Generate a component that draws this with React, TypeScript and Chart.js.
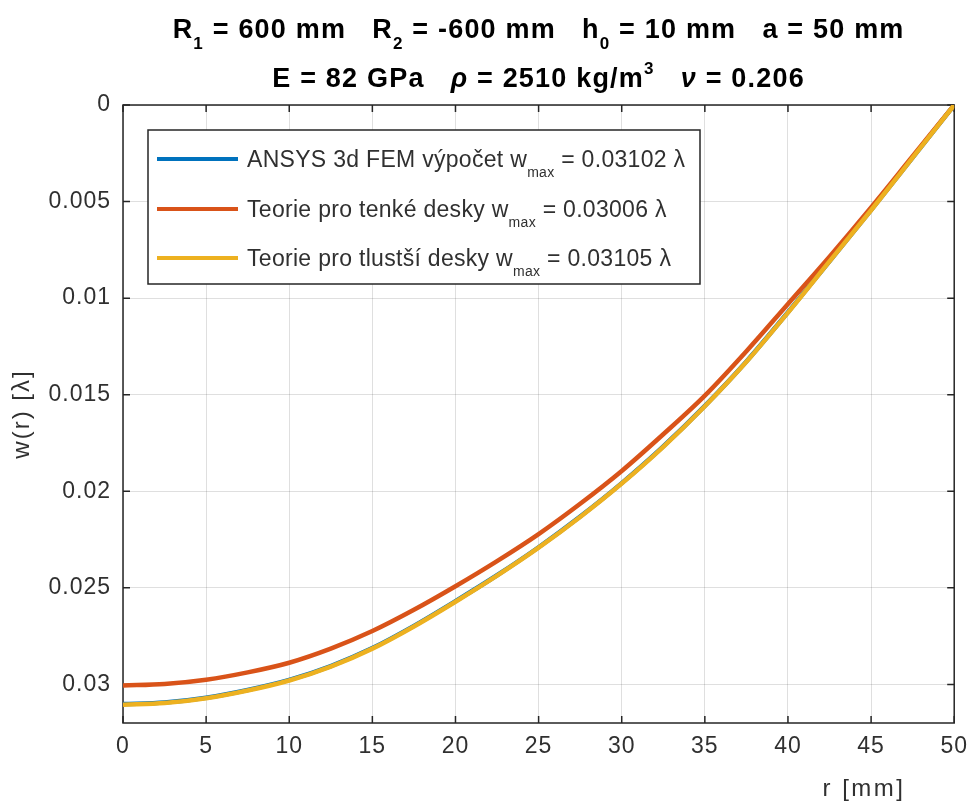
import React, { useEffect, useRef } from 'react';
import { Chart, registerables } from 'chart.js';

Chart.register(...registerables);

// ---------- data ----------
const radiusMm = [0, 2.5, 5, 7.5, 10, 12.5, 15, 17.5, 20, 22.5, 25, 27.5, 30, 32.5, 35, 37.5, 40, 42.5, 45, 47.5, 50];

const ansysW = [0.03102, 0.03094, 0.03069, 0.03029, 0.02977, 0.02905, 0.02812, 0.02697, 0.02569, 0.02435, 0.0229, 0.02131, 0.01958, 0.01768, 0.01558, 0.01328, 0.01073, 0.00809, 0.00544, 0.00272, 0];
const thinW = [0.03006, 0.02998, 0.02976, 0.02938, 0.02888, 0.02815, 0.02724, 0.02614, 0.02492, 0.02362, 0.02222, 0.02065, 0.01895, 0.01705, 0.01505, 0.01275, 0.0103, 0.00785, 0.0053, 0.00265, 0];
const thickW = [0.03105, 0.03097, 0.03072, 0.03032, 0.0298, 0.02908, 0.02815, 0.027, 0.02572, 0.02437, 0.02292, 0.02133, 0.0196, 0.0177, 0.0156, 0.0133, 0.01075, 0.0081, 0.00545, 0.00273, 0];

const xTickValues = [0, 5, 10, 15, 20, 25, 30, 35, 40, 45, 50];
const xTickLabels = ['0', '5', '10', '15', '20', '25', '30', '35', '40', '45', '50'];
const yTickValues = [0, 0.005, 0.01, 0.015, 0.02, 0.025, 0.03];
const yTickLabels = ['0', '0.005', '0.01', '0.015', '0.02', '0.025', '0.03'];
const yMax = 0.032;

type Seg = { t: string; sub?: boolean; sup?: boolean; it?: boolean };

const titleLine1: Seg[] = [
  { t: 'R' }, { t: '1', sub: true }, { t: ' = 600 mm   R' }, { t: '2', sub: true },
  { t: ' = -600 mm   h' }, { t: '0', sub: true }, { t: ' = 10 mm   a = 50 mm' },
];
const titleLine2: Seg[] = [
  { t: 'E = 82 GPa   ' }, { t: 'ρ', it: true }, { t: ' = 2510 kg/m' }, { t: '3', sup: true },
  { t: '   ' }, { t: 'ν', it: true }, { t: ' = 0.206' },
];

const seriesNames = ['ANSYS 3d FEM výpočet', 'Teorie pro tenké desky', 'Teorie pro tlustší desky'];
const seriesMax = ['0.03102', '0.03006', '0.03105'];
const seriesColors = ['#0072BD', '#D95319', '#EDB120'];

const xAxisTitle = 'r [mm]';
const yAxisTitle = 'w(r) [λ]';

// ---------- styling ----------
const FONT = '"Liberation Sans", Arial, Helvetica, sans-serif';
const TEXT = '#303030';
const AXIS = '#262626';

function legendSegs(i: number): Seg[] {
  return [{ t: seriesNames[i] + ' w' }, { t: 'max', sub: true }, { t: ' = ' + seriesMax[i] + ' λ' }];
}

function drawRich(
  ctx: any,
  segs: Seg[],
  x: number,
  baseline: number,
  size: number,
  bold: boolean,
  align: 'left' | 'center',
  spacing: number,
  subScale = 0.62,
  subDrop = 0.4,
) {
  const small = Math.round(size * subScale);
  const fontFor = (s: Seg) => {
    const sz = s.sub || s.sup ? small : size;
    return `${s.it ? 'italic ' : ''}${bold ? 'bold ' : ''}${sz}px ${FONT}`;
  };
  ctx.letterSpacing = spacing + 'px';
  let total = 0;
  const widths = segs.map((s) => {
    ctx.font = fontFor(s);
    const w = ctx.measureText(s.t).width;
    total += w;
    return w;
  });
  let cx = align === 'center' ? x - total / 2 : x;
  ctx.textAlign = 'left';
  ctx.textBaseline = 'alphabetic';
  segs.forEach((s, i) => {
    ctx.font = fontFor(s);
    let dy = 0;
    if (s.sub) dy = size * subDrop;
    if (s.sup) dy = -size * 0.5;
    ctx.fillText(s.t, cx, baseline + dy);
    cx += widths[i];
  });
}

const decorPlugin = {
  id: 'decor',
  beforeDraw(chart: any) {
    chart.ctx.letterSpacing = '1px';
  },
  beforeDatasetsDraw(chart: any) {
    const { ctx, chartArea, scales } = chart;
    const { left, right, top, bottom } = chartArea;
    const TL = 7;
    ctx.save();
    ctx.strokeStyle = AXIS;
    ctx.lineWidth = 1.5;
    ctx.beginPath();
    xTickValues.forEach((v) => {
      const px = scales.x.getPixelForValue(v);
      ctx.moveTo(px, bottom);
      ctx.lineTo(px, bottom - TL);
      ctx.moveTo(px, top);
      ctx.lineTo(px, top + TL);
    });
    yTickValues.forEach((v) => {
      const py = scales.y.getPixelForValue(v);
      ctx.moveTo(left, py);
      ctx.lineTo(left + TL, py);
      ctx.moveTo(right, py);
      ctx.lineTo(right - TL, py);
    });
    ctx.stroke();
    ctx.strokeRect(left, top, right - left, bottom - top);
    ctx.restore();
  },
  afterDatasetsDraw(chart: any) {
    const { ctx } = chart;
    ctx.save();
    const bx = 148, by = 130, bw = 552, bh = 154;
    ctx.fillStyle = '#ffffff';
    ctx.fillRect(bx, by, bw, bh);
    ctx.strokeStyle = AXIS;
    ctx.lineWidth = 1.5;
    ctx.strokeRect(bx, by, bw, bh);
    const rows = [159, 209, 258];
    rows.forEach((cy, i) => {
      ctx.strokeStyle = seriesColors[i];
      ctx.lineWidth = 4;
      ctx.beginPath();
      ctx.moveTo(157, cy);
      ctx.lineTo(238, cy);
      ctx.stroke();
      ctx.fillStyle = TEXT;
      drawRich(ctx, legendSegs(i), 247, cy + 8, 23, false, 'left', 0.3, 0.62, 0.45);
    });
    ctx.restore();
  },
  afterDraw(chart: any) {
    const { ctx, chartArea } = chart;
    const cx = (chartArea.left + chartArea.right) / 2;
    ctx.save();
    ctx.fillStyle = '#000000';
    drawRich(ctx, titleLine1, cx, 38, 27, true, 'center', 1.2);
    drawRich(ctx, titleLine2, cx, 87, 27, true, 'center', 1.2);
    ctx.fillStyle = TEXT;
    ctx.letterSpacing = '2.5px';
    ctx.font = `24px ${FONT}`;
    ctx.textAlign = 'center';
    ctx.textBaseline = 'middle';
    ctx.fillText(xAxisTitle, 864, 789);
    ctx.letterSpacing = '2px';
    ctx.translate(22, (chartArea.top + chartArea.bottom) / 2);
    ctx.rotate(-Math.PI / 2);
    ctx.fillText(yAxisTitle, 0, 0);
    ctx.restore();
  },
};

export default function App() {
  const ref = useRef<HTMLCanvasElement | null>(null);

  useEffect(() => {
    if (!ref.current) return;
    const mk = (i: number, data: number[], order: number) => ({
      label: seriesNames[i],
      data: radiusMm.map((r, k) => ({ x: r, y: data[k] })),
      borderColor: seriesColors[i],
      backgroundColor: seriesColors[i],
      borderWidth: 4.5,
      pointRadius: 0,
      cubicInterpolationMode: 'monotone' as const,
      fill: false,
      order,
    });
    const chart = new Chart(ref.current, {
      type: 'line',
      data: {
        datasets: [mk(0, ansysW, 3), mk(1, thinW, 2), mk(2, thickW, 1)],
      },
      options: {
        animation: false,
        responsive: true,
        maintainAspectRatio: false,
        layout: { padding: { top: 105, right: 18, left: 0, bottom: 0 } },
        plugins: {
          legend: { display: false },
          title: { display: false },
          tooltip: { enabled: false },
        },
        scales: {
          x: {
            type: 'linear',
            min: 0,
            max: 50,
            afterBuildTicks: (s: any) => {
              s.ticks = xTickValues.map((v) => ({ value: v }));
            },
            afterFit: (s: any) => {
              s.height = 86;
            },
            ticks: {
              callback: (v: any) => xTickLabels[xTickValues.indexOf(Number(v))],
              font: { family: FONT, size: 23 },
              color: TEXT,
              padding: 10,
              maxRotation: 0,
              autoSkip: false,
            },
            grid: { color: 'rgba(38,38,38,0.15)', drawTicks: false, lineWidth: 1 },
            border: { display: false },
          },
          y: {
            type: 'linear',
            reverse: true,
            min: 0,
            max: yMax,
            afterBuildTicks: (s: any) => {
              s.ticks = yTickValues.map((v) => ({ value: v }));
            },
            afterFit: (s: any) => {
              s.width = 123;
            },
            ticks: {
              callback: (v: any) => yTickLabels[yTickValues.indexOf(Number(v))],
              font: { family: FONT, size: 23 },
              color: TEXT,
              padding: 12,
              autoSkip: false,
            },
            grid: { color: 'rgba(38,38,38,0.15)', drawTicks: false, lineWidth: 1 },
            border: { display: false },
          },
        },
      },
      plugins: [decorPlugin],
    });
    return () => chart.destroy();
  }, []);

  return (
    <div style={{ position: 'fixed', left: 0, top: 0, width: 977, height: 809, background: '#fff' }}>
      <canvas ref={ref} />
    </div>
  );
}
